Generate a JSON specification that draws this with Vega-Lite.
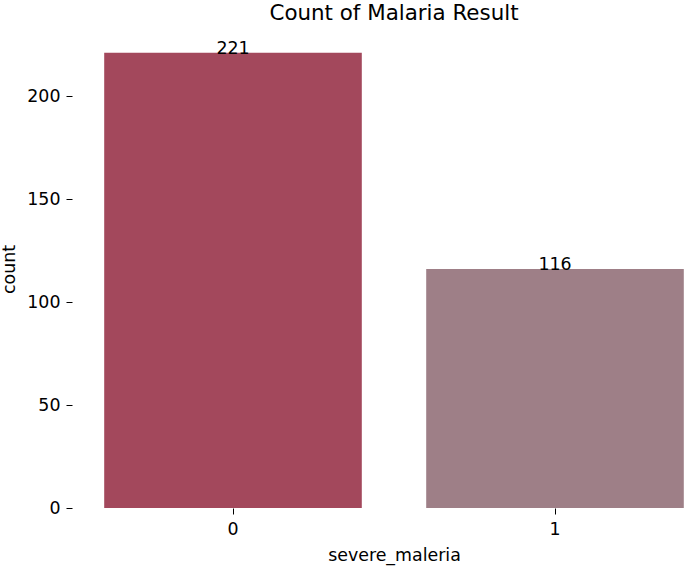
{
  "$schema": "https://vega.github.io/schema/vega-lite/v6.json",
  "description": "Count of Malaria Result",
  "autosize": "none",
  "padding": {"left": 72, "top": 30, "right": 0, "bottom": 59},
  "width": 644,
  "height": 478,
  "data": {
    "values": [
      {"severe_maleria": "0", "count": 221},
      {"severe_maleria": "1", "count": 116}
    ]
  },
  "title": {
    "text": "Count of Malaria Result",
    "font": "DejaVu Sans",
    "fontSize": 21.4,
    "fontWeight": "normal",
    "color": "#000000",
    "offset": 6
  },
  "config": {
    "view": {"stroke": null},
    "font": "DejaVu Sans",
    "axis": {
      "domain": false,
      "grid": false,
      "ticks": true,
      "tickSize": 6,
      "tickWidth": 1,
      "tickColor": "#000000",
      "labelFont": "DejaVu Sans",
      "labelFontSize": 17.4,
      "labelColor": "#000000",
      "labelPadding": 6,
      "titleFont": "DejaVu Sans",
      "titleFontSize": 17.4,
      "titleFontWeight": "normal",
      "titleColor": "#000000"
    }
  },
  "encoding": {
    "x": {
      "field": "severe_maleria",
      "type": "nominal",
      "title": "severe_maleria",
      "scale": {"paddingInner": 0.2, "paddingOuter": 0.1},
      "axis": {"labelAngle": 0, "titlePadding": 9}
    },
    "y": {
      "field": "count",
      "type": "quantitative",
      "title": "count",
      "scale": {"domain": [0, 232.05], "nice": false},
      "axis": {"values": [0, 50, 100, 150, 200], "titlePadding": 8}
    }
  },
  "layer": [
    {
      "mark": {"type": "bar"},
      "encoding": {
        "color": {
          "field": "severe_maleria",
          "type": "nominal",
          "legend": null,
          "scale": {"domain": ["0", "1"], "range": ["#a3485c", "#9e7f87"]}
        }
      }
    },
    {
      "mark": {
        "type": "text",
        "baseline": "alphabetic",
        "align": "center",
        "dy": 1,
        "fontSize": 17.4,
        "color": "#000000"
      },
      "encoding": {
        "text": {"field": "count", "type": "quantitative"}
      }
    }
  ]
}
